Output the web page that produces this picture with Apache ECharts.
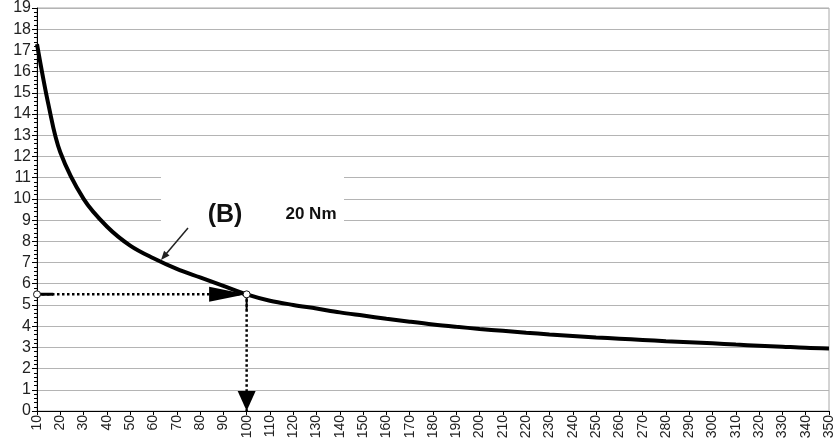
<!DOCTYPE html>
<html>
<head>
<meta charset="utf-8">
<script src="https://cdn.jsdelivr.net/npm/echarts@6/dist/echarts.min.js"></script>
<style>
  html, body { margin: 0; padding: 0; background: #fff; }
  #chart { width: 836px; height: 446px; }
</style>
</head>
<body>
<div id="chart"></div>
<script>
// speed (x) and torque (y)
const speed = [10, 15, 20, 30, 40, 50, 60, 70, 80, 90, 100, 110, 120, 130, 140, 150, 160, 170, 180,
  190, 200, 210, 220, 230, 240, 250, 260, 270, 280, 290, 300, 310, 320, 330, 340, 350];
const torque20 = [17.3, 14.4, 12.2, 10.0, 8.7, 7.8, 7.2, 6.7, 6.3, 5.9, 5.5, 5.2, 5.0, 4.83, 4.65, 4.5,
  4.35, 4.21, 4.08, 3.97, 3.87, 3.78, 3.69, 3.61, 3.54, 3.47, 3.41, 3.35, 3.29, 3.24, 3.19, 3.13, 3.08,
  3.03, 2.98, 2.95];

// reading point marked by the dotted guides
const refSpeed = 100;
const refTorque = 5.5;
const hGuideSolid = [[10, 5.5], [17, 5.5]];
const vGuideSolid = [[100, 5.5], [100, 4.75]];

const xMin = 10, xMax = 350, xStep = 10;
const yMin = 0, yMax = 19, yStep = 1;

const chart = echarts.init(document.getElementById('chart'), null, { renderer: 'canvas' });

const curveData = speed.map((s, i) => [s, torque20[i]]);
const black = '#000';

const option = {
  animation: false,
  backgroundColor: '#fff',
  textStyle: { fontFamily: 'Liberation Sans, Arial, sans-serif' },
  grid: {
    left: 37,
    right: 6,
    top: 8,
    bottom: 35,
    show: true,
    borderColor: '#a8a8a8',
    borderWidth: 1
  },
  xAxis: {
    type: 'value',
    min: xMin,
    max: xMax,
    interval: xStep,
    axisLine: { lineStyle: { color: black, width: 1 } },
    axisTick: { length: 4, lineStyle: { color: black } },
    axisLabel: {
      rotate: 90,
      margin: 4,
      fontSize: 14,
      color: '#222',
      showMinLabel: true,
      showMaxLabel: true
    },
    splitLine: { show: false }
  },
  yAxis: {
    type: 'value',
    min: yMin,
    max: yMax,
    interval: yStep,
    axisLine: { show: true, lineStyle: { color: black, width: 1 } },
    axisTick: { show: true, length: 5, lineStyle: { color: black } },
    minorTick: { show: true, splitNumber: 5, length: 3, lineStyle: { color: black } },
    axisLabel: { fontSize: 16, color: '#222', margin: 6 },
    splitLine: { lineStyle: { color: '#b4b4b4', width: 1 } }
  },
  series: [
    {
      name: '20 Nm',
      type: 'line',
      data: curveData,
      smooth: 0.35,
      showSymbol: false,
      lineStyle: { color: black, width: 4 },
      z: 5
    },
    {
      type: 'line',
      data: [[xMin, refTorque], [refSpeed, refTorque]],
      showSymbol: false,
      lineStyle: { color: black, width: 2.5, type: 'dotted' },
      z: 4
    },
    {
      type: 'line',
      data: [[refSpeed, refTorque], [refSpeed, yMin]],
      showSymbol: false,
      lineStyle: { color: black, width: 2.5, type: 'dotted' },
      z: 4
    },
    {
      type: 'line',
      data: hGuideSolid,
      showSymbol: false,
      lineStyle: { color: black, width: 3 },
      z: 4
    },
    {
      type: 'line',
      data: vGuideSolid,
      showSymbol: false,
      lineStyle: { color: black, width: 2 },
      z: 4
    },
    {
      // arrowheads
      type: 'scatter',
      silent: true,
      data: [
        { value: [refSpeed, refTorque], symbol: 'triangle', symbolSize: [15, 37], symbolRotate: -90, symbolOffset: [-19, 0] },
        { value: [refSpeed, yMin], symbol: 'triangle', symbolSize: [18, 20], symbolRotate: 180, symbolOffset: [0, -10] }
      ],
      itemStyle: { color: black, opacity: 1 },
      z: 6
    },
    {
      // open circles at the reading point
      type: 'scatter',
      silent: true,
      data: [[xMin, refTorque], [refSpeed, refTorque]],
      symbol: 'circle',
      symbolSize: 7,
      itemStyle: { color: '#fff', borderColor: '#111', borderWidth: 1, opacity: 1 },
      z: 7
    }
  ],
  graphic: [
    {
      type: 'rect',
      shape: { x: 161, y: 166, width: 183, height: 66 },
      style: { fill: '#fff' },
      z: 1
    },
    {
      type: 'text',
      x: 225,
      y: 215,
      style: {
        text: '(B)',
        fill: '#111',
        font: 'bold 25px "Liberation Sans", Arial, sans-serif',
        textAlign: 'center',
        textVerticalAlign: 'middle'
      },
      z: 10
    },
    {
      type: 'text',
      x: 311,
      y: 214,
      style: {
        text: '20 Nm',
        fill: '#111',
        font: 'bold 17px "Liberation Sans", Arial, sans-serif',
        textAlign: 'center',
        textVerticalAlign: 'middle'
      },
      z: 10
    },
    {
      type: 'line',
      shape: { x1: 188, y1: 228, x2: 166, y2: 254 },
      style: { stroke: '#222', lineWidth: 1.5 },
      z: 10
    },
    {
      type: 'polygon',
      shape: { points: [[161, 260], [169.5, 255.4], [164.1, 250.8]] },
      style: { fill: '#222' },
      z: 10
    }
  ]
};

chart.setOption(option);
</script>
</body>
</html>
